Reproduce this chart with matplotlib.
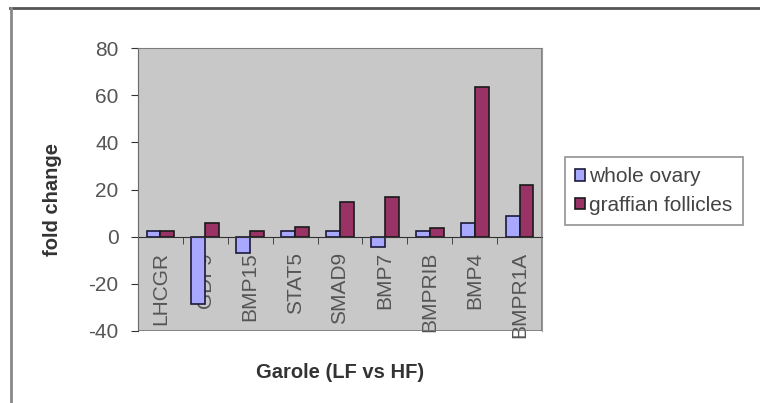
import matplotlib
matplotlib.use("Agg")
import matplotlib.pyplot as plt
from matplotlib.lines import Line2D
from matplotlib.patches import Rectangle
import numpy as np

## data ##
genes = ['LHCGR', 'GDF9', 'BMP15', 'STAT5', 'SMAD9', 'BMP7', 'BMPRIB', 'BMP4', 'BMPR1A']
whole_ovary = [2.5, -28.7, -6.8, 2.5, 2.5, -4.2, 2.5, 5.8, 8.7]
graffian = [2.5, 5.8, 2.5, 4.1, 14.9, 16.9, 3.5, 63.4, 21.8]
yticks = [-40, -20, 0, 20, 40, 60, 80]

plt.rcParams['font.family'] = ['Liberation Sans', 'DejaVu Sans']
plt.rcParams['axes.unicode_minus'] = False

fig = plt.figure(figsize=(7.6, 4.03), dpi=100)
ax = fig.add_axes([138/760, 1-331/403, 404/760, 283/403])
ax.set_facecolor('#c8c8c8')

x = np.arange(len(genes))
w = 0.31
ax.bar(x - w/2, whole_ovary, w, color='#a8a8ff', edgecolor='#1a1a3a', linewidth=1.2,
       label='whole ovary', zorder=2)
ax.bar(x + w/2, graffian, w, color='#993366', edgecolor='#1a1a1a', linewidth=1.2,
       label='graffian follicles', zorder=2)

ax.set_xlim(-0.5, len(genes) - 0.5)
ax.set_ylim(-40, 80)

## axes lines ##
ax.spines['bottom'].set_position(('data', 0))
ax.spines['bottom'].set_color('#333333')
ax.spines['left'].set_color('#333333')
ax.spines['top'].set_color('#999999')
ax.spines['right'].set_color('#999999')
ax.add_patch(Rectangle((0, 0), 1, 1, transform=ax.transAxes, fill=False,
                       edgecolor='#777777', linewidth=1.2, zorder=5))

ax.set_yticks(yticks)
ax.tick_params(axis='y', direction='out', length=5, color='#333333', pad=9,
               labelsize=15, labelcolor='#555555')
ax.set_xticks(x)
ax.set_xticklabels(genes, rotation=90)
ax.tick_params(axis='x', which='major', length=0, pad=11, labelsize=15,
               labelcolor='#555555')
ax.set_xticks(np.arange(len(genes) + 1) - 0.5, minor=True)
ax.tick_params(axis='x', which='minor', direction='out', length=5, color='#333333')

ax.set_xlabel('Garole (LF vs HF)', fontsize=14.5, fontweight='bold', color='#333333')
ax.xaxis.set_label_coords(0.5, -0.113)
ax.set_ylabel('fold change', fontsize=14.5, fontweight='bold', color='#333333')
ax.yaxis.set_label_coords(-0.188, 0.463)

leg = ax.legend(loc='upper left', bbox_to_anchor=(565/760, 1-157/403),
                bbox_transform=fig.transFigure, borderaxespad=0, fontsize=15,
                frameon=True, fancybox=False, edgecolor='#777777',
                handlelength=0.45, handleheight=0.45, handletextpad=0.2,
                borderpad=0.5, labelspacing=0.45, labelcolor='#444444')
leg.get_frame().set_linewidth(1.2)

## outer frame ##
fig.add_artist(Line2D([10/760, 1], [1-8/403, 1-8/403], color='#555555', linewidth=2))
fig.add_artist(Line2D([11/760, 11/760], [0, 1-8/403], color='#888888', linewidth=2))

fig.savefig('out.png', dpi=100)
